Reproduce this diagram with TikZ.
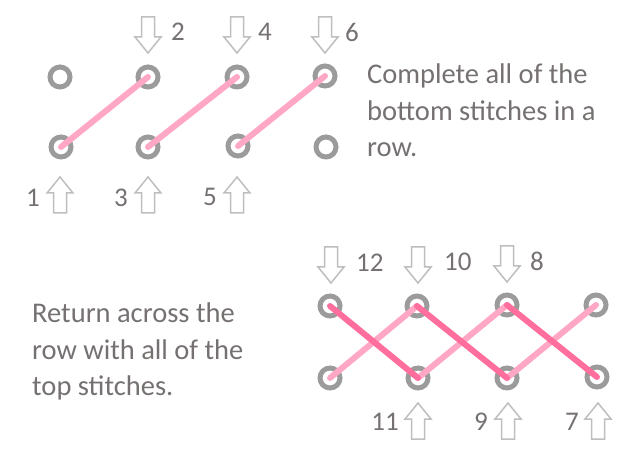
\documentclass[tikz,border=0pt]{standalone}
\usepackage{fontspec}
\setmainfont{Carlito}
\definecolor{txtgray}{RGB}{118,113,113}
\definecolor{holegray}{RGB}{155,155,155}
\definecolor{arrgray}{RGB}{190,190,190}
\definecolor{lightpink}{RGB}{255,167,196}
\definecolor{darkpink}{RGB}{255,110,156}
\tikzset{
  hole/.style={circle,draw=holegray,line width=5pt,minimum size=20pt,inner sep=0pt},
  lightthread/.style={lightpink,line width=6pt,line cap=round},
  darkthread/.style={darkpink,line width=6pt,line cap=round},
  num/.style={txtgray,font=\fontsize{27}{27}\selectfont,inner sep=0pt},
  words/.style={txtgray,font=\fontsize{28.5}{36.5}\selectfont,align=left,anchor=north west,inner sep=0pt},
  pics/dnarrow/.style={code={
    \draw[arrgray,line width=1.5pt,line join=miter,fill=white]
      (-6.5,-18) -- (-6.5,2) -- (-13,2) -- (0,18) -- (13,2) -- (6.5,2) -- (6.5,-18) -- cycle;}}
}
\begin{document}
\begin{tikzpicture}[x=1pt,y=-1pt]
\useasboundingbox (0,0) rectangle (640,470);

\node[hole] (ta) at (60,77) {};
\node[hole] (tb) at (148,77) {};
\node[hole] (tc) at (237,77) {};
\node[hole] (td) at (325,76) {};
\node[hole] (ba) at (61,147) {};
\node[hole] (bb) at (148,147) {};
\node[hole] (bc) at (238,146) {};
\node[hole] (bd) at (326,147) {};

\draw[lightthread] (ba.center) -- (tb.center);
\draw[lightthread] (bb.center) -- (tc.center);
\draw[lightthread] (bc.center) -- (td.center);

\pic at (148,35) {dnarrow};
\pic at (237,35) {dnarrow};
\pic at (325,35) {dnarrow};
\pic[rotate=180] at (60,195) {dnarrow};
\pic[rotate=180] at (148,195) {dnarrow};
\pic[rotate=180] at (237,195) {dnarrow};

\node[num,anchor=west] (n2) at (171,32) {2};
\node[num,anchor=west] (n4) at (258,32) {4};
\node[num,anchor=west] (n6) at (345,32) {6};
\node[num,anchor=east] (n1) at (40,198) {1};
\node[num,anchor=east] (n3) at (128,198) {3};
\node[num,anchor=east] (n5) at (217,197) {5};

\node[words] (topnote) at (367,64) {Complete all of the\\bottom stitches in a\\row.};

\node[hole] (tp) at (330,306) {};
\node[hole] (tq) at (417,306) {};
\node[hole] (tr) at (507,305) {};
\node[hole] (ts) at (596,305) {};
\node[hole] (bp) at (330,378) {};
\node[hole] (bq) at (418,378) {};
\node[hole] (br) at (507,378) {};
\node[hole] (bs) at (597,377) {};

\draw[lightthread] (bp.center) -- (tq.center);
\draw[lightthread] (bq.center) -- (tr.center);
\draw[lightthread] (br.center) -- (ts.center);
\draw[darkthread] (tp.center) -- (bq.center);
\draw[darkthread] (tq.center) -- (br.center);
\draw[darkthread] (tr.center) -- (bs.center);

\pic at (331,265) {dnarrow};
\pic at (418,265) {dnarrow};
\pic at (507,264) {dnarrow};
\pic[rotate=180] at (418,421) {dnarrow};
\pic[rotate=180] at (508,421) {dnarrow};
\pic[rotate=180] at (598,421) {dnarrow};

\node[num,anchor=west] (n12) at (356,263) {12};
\node[num,anchor=west] (n10) at (444,262) {10};
\node[num,anchor=west] (n8) at (530,261) {8};
\node[num,anchor=east] (n11) at (399,422) {11};
\node[num,anchor=east] (n9) at (488,422) {9};
\node[num,anchor=east] (n7) at (579,422) {7};

\node[words] (botnote) at (32,303) {Return across the\\row with all of the\\top stitches.};
\end{tikzpicture}
\end{document}
